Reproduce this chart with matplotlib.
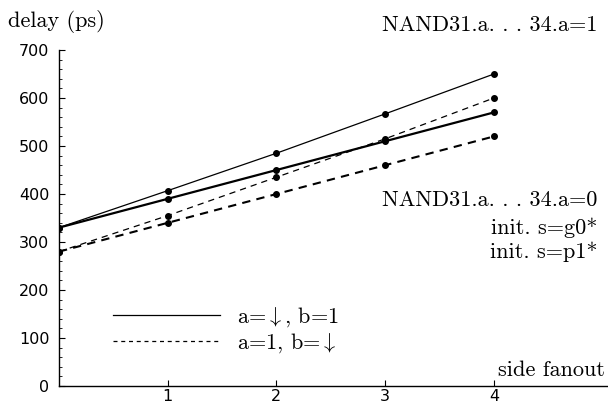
import matplotlib
matplotlib.use("Agg")
import matplotlib.pyplot as plt
from matplotlib.lines import Line2D
from matplotlib.ticker import MultipleLocator

plt.rcParams['mathtext.fontset'] = 'cm'
plt.rcParams['axes.unicode_minus'] = False

# Data
fanout = [0, 1, 2, 3, 4]
a1_adown = [330, 407, 485, 567, 650]   # NAND31.a...34.a=1, a=down, b=1 (thin solid)
a0_adown = [330, 390, 450, 510, 570]   # NAND31.a...34.a=0, a=down, b=1 (thick solid)
a1_bdown = [280, 355, 435, 515, 600]   # a=1, b=down (thin dashed)
a0_bdown = [280, 340, 400, 460, 520]   # a=1, b=down (thick dashed)

yticks = [0, 100, 200, 300, 400, 500, 600, 700]
xticks = [1, 2, 3, 4]

W, H = 608, 404
fig = plt.figure(figsize=(W / 100, H / 100), dpi=100)
x0, x1 = 59, 608
ybot, ytop = 386, 48.6
ax = fig.add_axes([x0 / W, (H - ybot) / H, (x1 - x0) / W, (ybot - ytop) / H])
ax.set_xlim(0, 5.05)
ax.set_ylim(0, 703)

serif = 'cmr10'
fs = 16
ms = 4
ax.plot(fanout, a1_adown, '-', color='black', lw=0.9, marker='o', ms=ms)
ax.plot(fanout, a0_adown, '-', color='black', lw=1.6, marker='o', ms=ms)
ax.plot(fanout, a1_bdown, color='black', lw=0.9, marker='o', ms=ms, dashes=(5, 4))
ax.plot(fanout, a0_bdown, color='black', lw=1.5, marker='o', ms=ms, dashes=(4, 3))

for s in ['top', 'right']:
    ax.spines[s].set_visible(False)
for s in ['left', 'bottom']:
    ax.spines[s].set_linewidth(1.0)
ax.spines['left'].set_bounds(0, 700)

ax.set_yticks(yticks)
ax.set_yticklabels([str(v) for v in yticks], fontfamily='DejaVu Sans', fontsize=11.5)
ax.yaxis.set_minor_locator(MultipleLocator(20))
ax.set_xticks(xticks)
ax.set_xticklabels([str(v) for v in xticks], fontfamily='DejaVu Sans', fontsize=11.5)
ax.tick_params(axis='y', which='major', direction='in', length=4, width=0.8, pad=7, colors='black')
ax.tick_params(axis='y', which='minor', direction='in', length=2.2, width=0.6)
ax.tick_params(axis='x', which='major', direction='in', length=4, width=0.8, pad=2)

fig.text(8 / W, 1 - 27 / H, 'delay (ps)', fontfamily=serif, fontsize=fs, ha='left', va='baseline')
fig.text(605 / W, 1 - 376 / H, 'side fanout', fontfamily=serif, fontsize=fs, ha='right', va='baseline')
fig.text(597 / W, 1 - 25 / H, 'NAND31.a. . . 34.a=1', fontfamily=serif, fontsize=fs, ha='right', va='center')
fig.text(597 / W, 1 - 200 / H, 'NAND31.a. . . 34.a=0', fontfamily=serif, fontsize=fs, ha='right', va='center')
fig.text(597 / W, 1 - 228 / H, 'init. s=g0*', fontfamily=serif, fontsize=fs, ha='right', va='center')
fig.text(597 / W, 1 - 252 / H, 'init. s=p1*', fontfamily=serif, fontsize=fs, ha='right', va='center')

handles = [Line2D([], [], color='black', lw=0.9),
           Line2D([], [], color='black', lw=0.9, dashes=(3.2, 3))]
labels = [r'a=$\downarrow$, b=1', r'a=1, b=$\downarrow$']
leg = ax.legend(handles, labels, loc='upper left', bbox_to_anchor=((113 - x0) / (x1 - x0), 0.24),
                frameon=False, handlelength=4.8, handletextpad=0.8, labelspacing=0.12,
                prop={'family': serif, 'size': fs}, borderaxespad=0, borderpad=0)

fig.savefig('out.png', dpi=100)
